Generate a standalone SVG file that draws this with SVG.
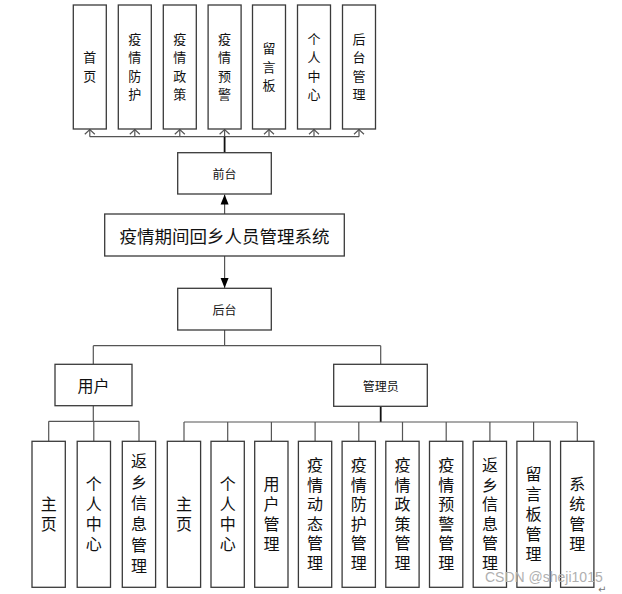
<svg xmlns="http://www.w3.org/2000/svg" width="622" height="594" viewBox="0 0 622 594">
<style>
.box{fill:#fff;stroke:#3a3a3a;stroke-width:1.3}
.ln{fill:none;stroke:#555;stroke-width:1.2}
.lnb{fill:none;stroke:#111;stroke-width:1.8}
.t{font-family:"Noto Sans CJK SC","Noto Sans",sans-serif;fill:#111;text-anchor:middle;dominant-baseline:central}
.v{font-family:"Noto Sans CJK SC","Noto Sans",sans-serif;fill:#111;text-anchor:middle;writing-mode:vertical-rl;text-orientation:upright}
.v13{font-size:13px;letter-spacing:5.5px}
.v16{font-size:16px;letter-spacing:4px}
.v16b{font-size:16px;letter-spacing:5px}
.v16c{font-size:16px;letter-spacing:3.5px}
.s16{font-size:16px}
.s12{font-size:12px}
.s17{font-size:17.5px}
.wm{font-family:"Liberation Sans",Arial,sans-serif;font-size:14px;fill:#b0b0b0}
</style>
<defs>
<marker id="fill" markerUnits="userSpaceOnUse" markerWidth="10" markerHeight="10" refX="10" refY="4" orient="auto" viewBox="0 0 10 8">
<path d="M0,0 L10,4 L0,8 Z" fill="#000"/>
</marker>
</defs>
<g id="connectors">
<line class="ln" x1="89.8" y1="136.7" x2="359" y2="136.7"/>
<path class="ln" d="M89.8,136.7V129.5M134.8,136.7V129.5M179.8,136.7V129.5M224.6,136.7V129.5M269,136.7V129.5M314,136.7V129.5M359,136.7V129.5"/>
<path class="ln" d="M84.8,134.3L89.8,129.5L94.8,134.3M129.8,134.3L134.8,129.5L139.8,134.3M174.8,134.3L179.8,129.5L184.8,134.3M219.6,134.3L224.6,129.5L229.6,134.3M264,134.3L269,129.5L274,134.3M309,134.3L314,129.5L319,134.3M354,134.3L359,129.5L364,134.3"/>
<line class="lnb" x1="224.6" y1="136.7" x2="224.6" y2="152.7"/>
<line class="ln" x1="224.6" y1="214" x2="224.6" y2="194.5" marker-end="url(#fill)"/>
<line class="ln" x1="224.6" y1="256" x2="224.6" y2="288" marker-end="url(#fill)"/>
<line class="ln" x1="224.6" y1="330" x2="224.6" y2="345.7"/>
<line class="ln" x1="93.3" y1="345.7" x2="380.7" y2="345.7"/>
<line class="ln" x1="93.3" y1="345.7" x2="93.3" y2="364.3"/>
<line class="ln" x1="380.7" y1="345.7" x2="380.7" y2="364.3"/>
<line class="ln" x1="93.3" y1="405.7" x2="93.3" y2="421.3"/>
<line class="ln" x1="48.7" y1="421.3" x2="139" y2="421.3"/>
<path class="ln" d="M48.7,421.3V441.3M93.8,421.3V441.3M139,421.3V441.3"/>
<line class="lnb" x1="380.7" y1="406.3" x2="380.7" y2="422"/>
<line class="ln" x1="184" y1="422" x2="577.3" y2="422"/>
<path class="ln" d="M184,422V441.3M227.7,422V441.3M271.4,422V441.3M315.1,422V441.3M358.8,422V441.3M402.5,422V441.3M446.2,422V441.3M489.9,422V441.3M533.6,422V441.3M577.3,422V441.3"/>
</g>
<g id="top1"><rect class="box" x="73.3" y="5" width="33" height="124"/><text class="v v13" x="89.8" y="69.5">首页</text></g>
<g id="top2"><rect class="box" x="118.3" y="5" width="33" height="124"/><text class="v v13" x="134.8" y="69.5">疫情防护</text></g>
<g id="top3"><rect class="box" x="163.3" y="5" width="33" height="124"/><text class="v v13" x="179.8" y="69.5">疫情政策</text></g>
<g id="top4"><rect class="box" x="208.1" y="5" width="33" height="124"/><text class="v v13" x="224.6" y="69.5">疫情预警</text></g>
<g id="top5"><rect class="box" x="252.5" y="5" width="33" height="124"/><text class="v v13" x="269" y="69.5">留言板</text></g>
<g id="top6"><rect class="box" x="297.5" y="5" width="33" height="124"/><text class="v v13" x="314" y="69.5">个人中心</text></g>
<g id="top7"><rect class="box" x="342.5" y="5" width="33" height="124"/><text class="v v13" x="359" y="69.5">后台管理</text></g>
<g id="qiantai"><rect class="box" x="177.7" y="152.7" width="93.6" height="41.3"/><text class="t s12" x="224.6" y="173.5">前台</text></g>
<g id="main"><rect class="box" x="104.7" y="214" width="239.6" height="42"/><text class="t s17" x="224.6" y="235">疫情期间回乡人员管理系统</text></g>
<g id="houtai"><rect class="box" x="177.7" y="288.3" width="93.6" height="41.7"/><text class="t s12" x="224.6" y="309">后台</text></g>
<g id="user"><rect class="box" x="55" y="364.3" width="77" height="41.4"/><text class="t s16" x="93.5" y="385">用户</text></g>
<g id="admin"><rect class="box" x="333.7" y="364.3" width="93.6" height="42"/><text class="t s12" x="380.7" y="385.5">管理员</text></g>
<g id="u1"><rect class="box" x="32" y="441.3" width="33.3" height="146"/><text class="v v16" x="48.7" y="516">主页</text></g>
<g id="u2"><rect class="box" x="77.2" y="441.3" width="33.3" height="146"/><text class="v v16" x="93.8" y="516">个人中心</text></g>
<g id="u3"><rect class="box" x="122.3" y="441.3" width="33.3" height="146"/><text class="v v16b" x="139" y="516">返乡信息管理</text></g>
<g id="a1"><rect class="box" x="167.3" y="441.3" width="33.3" height="146"/><text class="v v16" x="184" y="516">主页</text></g>
<g id="a2"><rect class="box" x="211" y="441.3" width="33.3" height="146"/><text class="v v16" x="227.7" y="516">个人中心</text></g>
<g id="a3"><rect class="box" x="254.7" y="441.3" width="33.3" height="146"/><text class="v v16" x="271.4" y="516">用户管理</text></g>
<g id="a4"><rect class="box" x="298.4" y="441.3" width="33.3" height="146"/><text class="v v16c" x="315.1" y="515.5">疫情动态管理</text></g>
<g id="a5"><rect class="box" x="342.1" y="441.3" width="33.3" height="146"/><text class="v v16c" x="358.8" y="515.5">疫情防护管理</text></g>
<g id="a6"><rect class="box" x="385.8" y="441.3" width="33.3" height="146"/><text class="v v16c" x="402.5" y="515.5">疫情政策管理</text></g>
<g id="a7"><rect class="box" x="429.5" y="441.3" width="33.3" height="146"/><text class="v v16c" x="446.2" y="515.5">疫情预警管理</text></g>
<g id="a8"><rect class="box" x="473.2" y="441.3" width="33.3" height="146"/><text class="v v16c" x="489.9" y="515.5">返乡信息管理</text></g>
<g id="a9"><rect class="box" x="516.9" y="441.3" width="33.3" height="146"/><text class="v v16" x="533.6" y="516">留言板管理</text></g>
<g id="a10"><rect class="box" x="560.6" y="441.3" width="33.3" height="146"/><text class="v v16" x="577.3" y="516">系统管理</text></g>
<text class="wm" x="485" y="582">CSDN @sheji1015</text>
<text x="598" y="593" style="font-family:'DejaVu Sans',sans-serif;font-size:10px;fill:#777">↵</text>
</svg>
